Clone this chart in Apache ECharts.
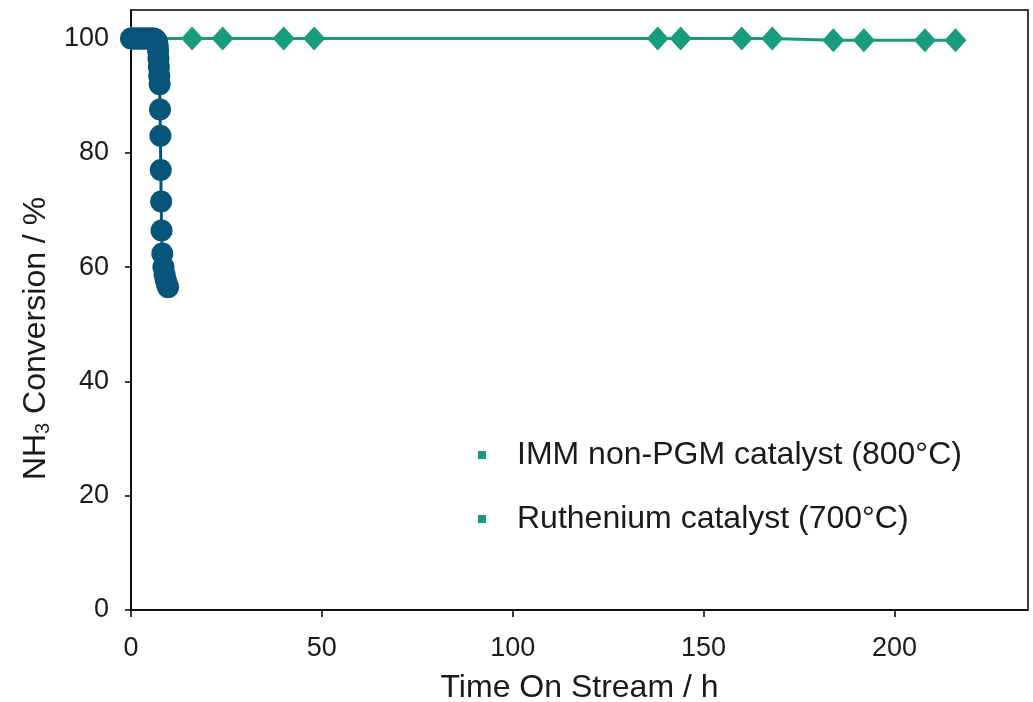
<!DOCTYPE html>
<html>
<head>
<meta charset="utf-8">
<script src="https://cdn.jsdelivr.net/npm/echarts@6/dist/echarts.min.js"></script>
<style>
html, body { margin: 0; padding: 0; background: #fff; }
#main { width: 1033px; height: 702px; }
</style>
</head>
<body>
<div id="main"></div>
<script>
// IMM non-PGM catalyst (800°C)
var immTime = [0, 16, 24, 40, 48, 138, 144, 160, 168, 184, 192, 208, 216];
var immConv = [100, 100, 100, 100, 100, 100, 100, 100, 100, 99.7, 99.7, 99.7, 99.7];

// Ruthenium catalyst (700°C)
var ruTime = [0, 0.5, 1, 1.5, 2, 2.5, 3, 3.5, 4, 4.5, 5, 5.5, 6, 6.5,
              6.8, 7.0, 7.1, 7.2, 7.3, 7.4, 7.5, 7.6, 7.7, 7.8, 7.9, 8.0, 8.2, 8.5, 8.8, 9.1, 9.4, 9.7];
var ruConv = [100, 100, 100, 100, 100, 100, 100, 100, 100, 100, 100, 100, 100, 99.8,
              99.5, 98.8, 97.8, 96.5, 95, 93.5, 92, 87.6, 83, 77, 71.5, 66.4, 62.4, 60, 58.7, 57.8, 57, 56.5];

var xTicks = [0, 50, 100, 150, 200];
var yTicks = [0, 20, 40, 60, 80, 100];

var green = '#179c7d';
var blue = '#07557a';
var txt = '#1a1a1a';

function pairs(xs, ys) {
	var out = [];
	for (var i = 0; i < xs.length; i++) {
		out.push([xs[i], ys[i]]);
	}
	return out;
}

var myChart = echarts.init(document.getElementById('main'));
var option = {
	animation: false,
	textStyle: { fontFamily: 'Liberation Sans, Arial, sans-serif' },
	grid: {
		left: 131, right: 5, top: 10, bottom: 92,
		show: true, borderColor: '#000', borderWidth: 1.5,
		containLabel: false,
		outerBoundsMode: 'none'
	},
	legend: {
		orient: 'vertical',
		left: 473,
		top: 434,
		itemWidth: 8,
		itemHeight: 8,
		itemGap: 32,
		icon: 'rect',
		textStyle: { fontSize: 32, color: txt, lineHeight: 32, padding: [0, 0, 0, 26] },
		data: [
			{ name: 'IMM non-PGM catalyst (800°C)', itemStyle: { color: green } },
			{ name: 'Ruthenium catalyst (700°C)', itemStyle: { color: green } }
		]
	},
	xAxis: {
		type: 'value',
		min: 0,
		max: 235,
		interval: 50,
		name: 'Time On Stream / h',
		nameLocation: 'middle',
		nameGap: 62,
		nameTextStyle: { fontSize: 32, color: txt },
		axisLine: { show: true, onZero: false, lineStyle: { color: '#000', width: 1.5 } },
		axisTick: { show: true, inside: false, length: 7, customValues: xTicks, lineStyle: { color: '#000', width: 1.5 } },
		axisLabel: { fontSize: 27, color: txt, margin: 25, customValues: xTicks },
		splitLine: { show: false }
	},
	yAxis: {
		type: 'value',
		min: 0,
		max: 105,
		interval: 20,
		name: '{a|NH}{s|3}{a| Conversion / %}',
		nameLocation: 'middle',
		nameGap: 78,
		nameRotate: 90,
		nameTextStyle: {
			color: txt,
			padding: [0, 57, 0, 0],
			rich: {
				a: { fontSize: 32, color: txt },
				s: { fontSize: 20, color: txt, verticalAlign: 'bottom', padding: [13, 0, 0, 0] }
			}
		},
		axisLine: { show: true, onZero: false, lineStyle: { color: '#000', width: 1.5 } },
		axisTick: { show: true, inside: false, length: 6, customValues: yTicks, lineStyle: { color: '#000', width: 1.5 } },
		axisLabel: { fontSize: 27, color: txt, margin: 22, customValues: yTicks },
		splitLine: { show: false }
	},
	series: [
		{
			name: 'IMM non-PGM catalyst (800°C)',
			type: 'line',
			clip: false,
			data: pairs(immTime, immConv),
			symbol: 'diamond',
			symbolSize: [22, 24],
			itemStyle: { color: green },
			lineStyle: { color: green, width: 3 },
			z: 2
		},
		{
			name: 'Ruthenium catalyst (700°C)',
			type: 'line',
			clip: false,
			data: pairs(ruTime, ruConv),
			symbol: 'circle',
			symbolSize: 22,
			itemStyle: { color: blue },
			lineStyle: { color: blue, width: 3 },
			z: 3
		}
	]
};
myChart.setOption(option);
</script>
</body>
</html>
